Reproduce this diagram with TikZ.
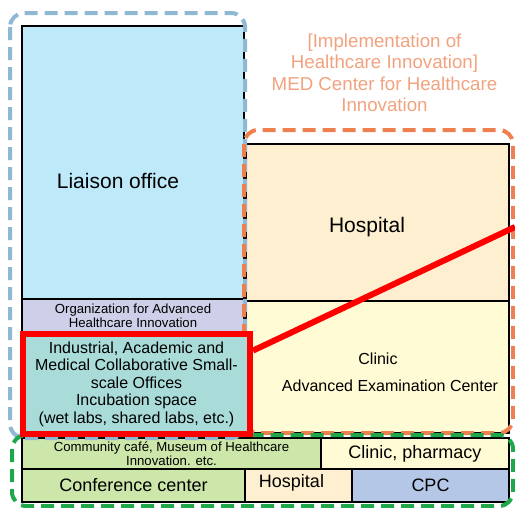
\documentclass[tikz,border=0pt]{standalone}
\usepackage{fontspec}
\setmainfont{Liberation Sans}
\usetikzlibrary{positioning}
\definecolor{liaisonblue}{HTML}{BEE9F9}
\definecolor{orgviolet}{HTML}{CDD0E8}
\definecolor{incubteal}{HTML}{A9DCD9}
\definecolor{hospbeige}{HTML}{FDEFD0}
\definecolor{clinicyellow}{HTML}{FFFBD4}
\definecolor{commgreen}{HTML}{CDE6AA}
\definecolor{cpcblue}{HTML}{B4C7E7}
\definecolor{frameblue}{HTML}{8FB8D3}
\definecolor{frameorange}{HTML}{EE7F4E}
\definecolor{framegreen}{HTML}{1FA84B}
\definecolor{titleorange}{HTML}{F2A27F}
\definecolor{alertred}{HTML}{FF0000}
\tikzset{
	room/.style={
		rectangle, anchor=north west,
		draw=black, line width=2pt,
		inner sep=0pt, align=center,
		text=black
	},
	zone/.style={rounded corners=14pt, line width=4pt, dash pattern=on 13pt off 7pt},
	caption/.style={align=center, inner sep=0pt, text=black},
	bigtext/.style={font=\fontsize{21}{25}\selectfont},
	midtext/.style={font=\fontsize{18}{21}\selectfont},
	bodytext/.style={font=\fontsize{16}{17.5}\selectfont},
	smalltext/.style={font=\fontsize{13.2}{14.5}\selectfont}
}

\begin{document}
\begin{tikzpicture}[x=1pt,y=-1pt]
	\useasboundingbox (0,0) rectangle (515,507);

	% left column
	\node[room, fill=liaisonblue, minimum width=222pt, minimum height=273pt] (liaison) at (21,25) {};
	\node[room, fill=orgviolet, minimum width=222pt, minimum height=34pt, smalltext] (org) at (21,298)
		{Organization for Advanced\\Healthcare Innovation};
	\node[caption, bigtext] (liaisontxt) at (118,181) {Liaison office};

	% right column
	\node[room, fill=hospbeige, minimum width=263pt, minimum height=157pt] (hosp) at (245,143) {};
	\node[room, fill=clinicyellow, minimum width=263pt, minimum height=132pt] (clinic) at (245,300) {};
	\node[caption, bigtext] (hosptxt) at (367,227) {Hospital};
	\node[caption, bodytext] (clinictxt) at (378,359) {Clinic};
	\node[caption, bodytext] (examtxt) at (390,386) {Advanced Examination Center};

	% bottom rows
	\node[room, fill=commgreen, minimum width=299pt, minimum height=31pt, smalltext] (comm) at (21,437)
		{Community café, Museum of Healthcare\\Innovation. etc.};
	\node[room, fill=clinicyellow, minimum width=188pt, minimum height=31pt, midtext] (pharm) at (320,437)
		{Clinic, pharmacy};
	\node[room, fill=commgreen, minimum width=223pt, minimum height=33pt, midtext] (conf) at (21,468)
		{Conference center};
	\node[room, fill=hospbeige, minimum width=107pt, minimum height=33pt] (hospsmall) at (244,468) {};
	\node[caption, midtext] (hospsmalltxt) at (291.5,483) {Hospital};
	\node[room, fill=cpcblue, minimum width=157pt, minimum height=33pt, midtext] (cpc) at (351,468) {CPC};

	% dashed zones
	\draw[zone, frameblue] (10,13) rectangle (245,438);
	\draw[zone, frameorange] (244,130) rectangle (513,433);
	\draw[zone, framegreen] (12,435) rectangle (513,506);

	\node[caption, text=titleorange, font=\fontsize{18.7}{21.5}\selectfont] (title) at (384.5,73)
		{[Implementation of\\Healthcare Innovation]\\MED Center for Healthcare\\Innovation};

	% highlighted incubation space
	\node[room, draw=alertred, line width=6pt, fill=incubteal, minimum width=227pt, minimum height=100pt, bodytext] (incub) at (20,331)
		{Industrial, Academic and\\Medical Collaborative Small-\\scale Offices\\Incubation space\\(wet labs, shared labs, etc.)};
	\coordinate (redend) at (515,227);
	\draw[alertred, line width=6pt] (incub.16) -- (redend);

\end{tikzpicture}
\end{document}
